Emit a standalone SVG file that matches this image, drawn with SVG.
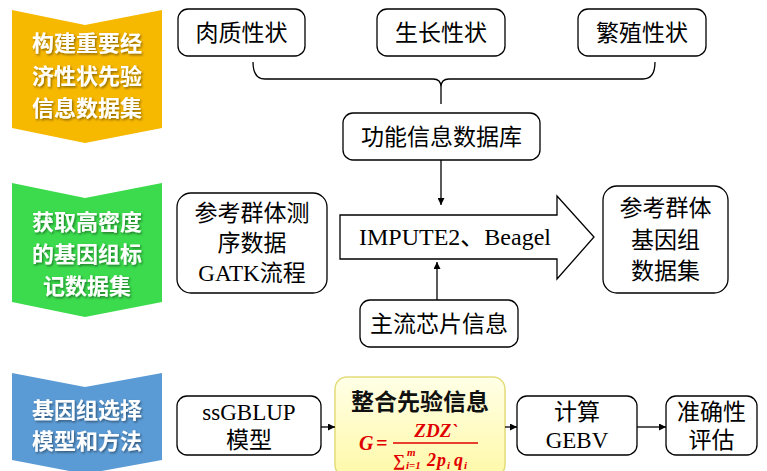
<svg xmlns="http://www.w3.org/2000/svg" width="767" height="471" viewBox="0 0 767 471">
<defs>
<marker id="ah" viewBox="0 0 10 10" refX="10" refY="5" markerWidth="7" markerHeight="7" orient="auto" markerUnits="userSpaceOnUse">
<path d="M0,0 L10,5 L0,10 Z" fill="#000"/>
</marker>
<filter id="sh" x="-10%" y="-10%" width="120%" height="130%">
<feDropShadow dx="1.2" dy="1.5" stdDeviation="0.8" flood-color="#000" flood-opacity="0.45"/>
</filter>
<linearGradient id="yg" x1="0" y1="0" x2="0" y2="1">
<stop offset="0" stop-color="#FFFFE6"/>
<stop offset="1" stop-color="#FFF9A8"/>
</linearGradient>
<style>
.box{fill:#fff;stroke:#000;stroke-width:1.3}
.t{font-family:"Liberation Serif","Noto Sans CJK SC",serif;font-size:23px;fill:#000;text-anchor:middle}
.lab{font-family:"Noto Sans CJK SC",sans-serif;font-weight:bold;font-size:22px;fill:#fff;text-anchor:middle;filter:url(#sh)}
.ln{fill:none;stroke:#000;stroke-width:1.3}
.f{font-family:"Liberation Serif",serif;font-style:italic;font-weight:bold;fill:#E00000}
</style>
</defs>

<g id="label1">
<polygon points="12,10 85,25 162,10 162,128 85,143 12,128" fill="#F7B800"/>
<text class="lab" x="87" y="51">构建重要经</text>
<text class="lab" x="87" y="84">济性状先验</text>
<text class="lab" x="87" y="116">信息数据集</text>
</g>
<g id="label2">
<polygon points="12,183 85,198 162,183 162,302 85,317 12,302" fill="#3BDB4D"/>
<text class="lab" x="87" y="230">获取高密度</text>
<text class="lab" x="87" y="262">的基因组标</text>
<text class="lab" x="87" y="294">记数据集</text>
</g>
<g id="label3">
<polygon points="12,373 85,387 162,373 162,460 85,474 12,460" fill="#5B9BD5"/>
<text class="lab" x="87" y="418">基因组选择</text>
<text class="lab" x="87" y="449">模型和方法</text>
</g>

<g id="meat">
<rect class="box" x="178" y="9" width="127" height="47" rx="10"/>
<text class="t" x="241.5" y="41">肉质性状</text>
</g>
<g id="growth">
<rect class="box" x="377" y="9" width="128" height="47" rx="10"/>
<text class="t" x="441" y="41">生长性状</text>
</g>
<g id="repro">
<rect class="box" x="578" y="9" width="128" height="47" rx="10"/>
<text class="t" x="642" y="41">繁殖性状</text>
</g>
<g id="funcdb">
<rect class="box" x="343" y="113" width="197" height="47" rx="10"/>
<text class="t" x="441.5" y="145">功能信息数据库</text>
</g>
<g id="refseq">
<rect class="box" x="177" y="193" width="150" height="100" rx="14"/>
<text class="t" x="252" y="221">参考群体测</text>
<text class="t" x="252" y="251">序数据</text>
<text class="t" x="252" y="281">GATK流程</text>
</g>
<g id="impute">
<polygon class="box" points="340,215 557,215 557,196 594,237 557,279 557,259 340,259"/>
<text class="t" x="455" y="245" style="font-size:24px">IMPUTE2、Beagel</text>
</g>
<g id="chip">
<rect class="box" x="360" y="300" width="158" height="47" rx="10"/>
<text class="t" x="439" y="332">主流芯片信息</text>
</g>
<g id="refgeno">
<rect class="box" x="603" y="186" width="125" height="107" rx="14"/>
<text class="t" x="665.5" y="216">参考群体</text>
<text class="t" x="665.5" y="248">基因组</text>
<text class="t" x="665.5" y="279">数据集</text>
</g>
<g id="ssgblup">
<rect class="box" x="177" y="396" width="144" height="59" rx="10"/>
<text class="t" x="249" y="420">ssGBLUP</text>
<text class="t" x="249" y="448">模型</text>
</g>
<g id="prior">
<rect x="335" y="377" width="170" height="100" rx="12" fill="url(#yg)" stroke="#E3DC7A" stroke-width="1.5"/>
<text x="420" y="410" style="font-family:'Noto Sans CJK SC',sans-serif;font-weight:bold;font-size:23px;text-anchor:middle;fill:#111">整合先验信息</text>
<text class="f" x="359" y="450" font-size="20">G</text>
<text class="f" x="376" y="450" font-size="20" font-style="normal">=</text>
<line x1="393" y1="443" x2="478" y2="443" stroke="#E00000" stroke-width="1.5"/>
<text class="f" x="436" y="437" font-size="19" text-anchor="middle">ZDZ`</text>
<text class="f" x="393" y="466" font-size="17" font-style="normal">∑</text>
<text class="f" x="407" y="456" font-size="11">m</text>
<text class="f" x="406" y="469" font-size="11">i=1</text>
<text class="f" x="427" y="466" font-size="18" font-style="normal">2</text>
<text class="f" x="437" y="466" font-size="18">p</text>
<text class="f" x="447" y="469" font-size="11">i</text>
<text class="f" x="454" y="466" font-size="18">q</text>
<text class="f" x="464" y="469" font-size="11">i</text>
</g>
<g id="gebv">
<rect class="box" x="517" y="396" width="120" height="59" rx="10"/>
<text class="t" x="577" y="420">计算</text>
<text class="t" x="577" y="448">GEBV</text>
</g>
<g id="accuracy">
<rect class="box" x="666" y="396" width="91" height="59" rx="10"/>
<text class="t" x="711.5" y="420">准确性</text>
<text class="t" x="711.5" y="448">评估</text>
</g>

<g id="connectors">
<path class="ln" d="M253,62 Q253,79 265,79 L433,79 Q441,79 441,87 L441,104 M441,87 Q441,79 449,79 L643,79 Q655,79 655,62"/>
<line class="ln" x1="441" y1="160" x2="441" y2="205" marker-end="url(#ah)"/>
<line class="ln" x1="437" y1="300" x2="437" y2="262" marker-end="url(#ah)"/>
<line class="ln" x1="321" y1="427" x2="335" y2="427" marker-end="url(#ah)"/>
<line class="ln" x1="505" y1="427" x2="517" y2="427" marker-end="url(#ah)"/>
<line class="ln" x1="637" y1="427" x2="666" y2="427" marker-end="url(#ah)"/>
</g>
</svg>
